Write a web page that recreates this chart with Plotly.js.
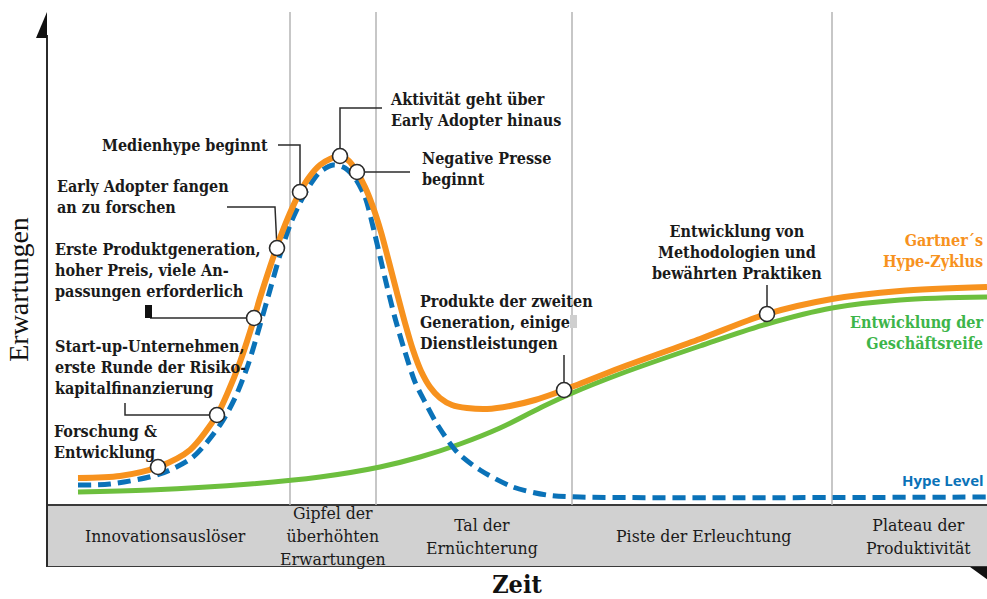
<!DOCTYPE html>
<html>
<head>
<meta charset="utf-8">
<script src="https://cdn.plot.ly/plotly-3.0.1.min.js"></script>
<style>html,body{margin:0;padding:0;background:#fff;}#chart{width:987px;height:599px;}</style>
</head>
<body>
<div id="chart"></div>
<script>
// ---- Data (Zeit 0..94, Erwartungen 0..~98) ----
const hypeCycleX = [3.1, 7.3, 11.1, 14.3, 17.0, 18.1, 19.3, 20.3, 21.3, 22.3, 23.3, 24.3, 25.3, 26.3, 27.3, 28.3, 29.3, 30.2, 31.0, 31.8, 32.6, 33.4, 34.2, 35.0, 35.8, 36.6, 37.4, 38.3, 39.3, 40.5, 42.0, 44.0, 46.3, 48.8, 51.7, 57.3, 65.3, 72.0, 78.5, 85.3, 94.0];
const hypeCycleY = [5.4, 5.8, 7.6, 11.0, 18.0, 22.6, 28.6, 34.6, 41.4, 47.6, 53.4, 58.4, 62.6, 65.8, 68.0, 69.2, 69.8, 68.8, 66.6, 63.6, 59.6, 54.6, 48.6, 42.4, 36.4, 31.0, 26.8, 23.6, 21.4, 20.0, 19.4, 19.2, 19.8, 21.0, 23.0, 27.4, 33.2, 38.2, 41.2, 42.8, 43.6];

const hypeLevelX = [3.1, 6.3, 11.3, 14.6, 17.3, 18.8, 20.1, 21.3, 22.3, 23.3, 24.3, 25.3, 26.3, 27.3, 28.6, 29.8, 30.8, 31.8, 32.8, 33.8, 34.8, 35.8, 36.8, 37.8, 39.0, 41.0, 43.3, 46.6, 50.0, 53.3, 94.0];
const hypeLevelY = [4.0, 4.2, 6.2, 9.6, 16.0, 21.4, 28.0, 36.0, 43.0, 50.0, 56.0, 60.4, 64.0, 66.6, 68.0, 67.4, 65.4, 61.6, 54.0, 45.4, 37.4, 30.6, 24.6, 20.6, 16.2, 10.6, 7.0, 3.6, 2.0, 1.6, 1.6];

const maturityX = [3.1, 10.3, 20.3, 27.3, 33.3, 37.3, 41.3, 45.3, 49.3, 52.3, 57.3, 65.3, 72.0, 78.5, 85.3, 94.0];
const maturityY = [2.6, 3.0, 4.2, 5.6, 7.6, 9.6, 12.2, 15.4, 19.4, 22.2, 26.2, 31.8, 36.2, 39.4, 41.0, 41.6];

// event points on the hype cycle
const eventX = [11.1, 17.0, 20.7, 23.0, 25.3, 29.3, 31.0, 51.7, 72.0];
const eventY = [7.6, 18.0, 37.4, 51.4, 62.6, 69.8, 66.6, 23.0, 38.2];
const eventLabels = [
  "Forschung &<br>Entwicklung",
  "Start-up-Unternehmen,<br>erste Runde der Risiko-<br>kapitalfinanzierung",
  "Erste Produktgeneration,<br>hoher Preis, viele An-<br>passungen erforderlich",
  "Early Adopter fangen<br>an zu forschen",
  "Medienhype beginnt",
  "Aktivität geht über<br>Early Adopter hinaus",
  "Negative Presse<br>beginnt",
  "Produkte der zweiten<br>Generation, einige<br>Dienstleistungen",
  "Entwicklung von<br>Methodologien und<br>bewährten Praktiken"
];

// phases (boundaries on the Zeit axis) and names
const phaseBounds = [24.3, 32.9, 52.5, 78.5];
const phaseNames = [
  "Innovationsauslöser",
  "Gipfel der<br>überhöhten<br>Erwartungen",
  "Tal der<br>Ernüchterung",
  "Piste der Erleuchtung",
  "Plateau der<br>Produktivität"
];
const seriesNames = ["Gartner´s<br>Hype-Zyklus", "Entwicklung der<br>Geschäftsreife", "Hype Level"];

// ---- Styling / layout ----
const ORANGE = "#f7921e", BLUE = "#0a72b8", GREEN = "#6dbf3e", GREENTXT = "#3db54a", DARK = "#2b2b2b";
const SERIF = "DejaVu Serif Condensed, DejaVu Serif, Liberation Serif, serif";
const YMIN = -12.4, YMAX = 98.6, XMAX = 94;

const traces = [
  {x: maturityX, y: maturityY, mode: "lines", line: {color: GREEN, width: 5, shape: "spline", smoothing: 1}, hoverinfo: "skip"},
  {x: hypeLevelX, y: hypeLevelY, mode: "lines", line: {color: BLUE, width: 5, dash: "13px,7px", shape: "spline", smoothing: 0.8}, hoverinfo: "skip"},
  {x: hypeCycleX, y: hypeCycleY, mode: "lines", line: {color: ORANGE, width: 6, shape: "spline", smoothing: 0.8}, hoverinfo: "skip"},
  {x: eventX, y: eventY, mode: "markers", marker: {size: 15, color: "#fff", line: {color: DARK, width: 1.6}}, hoverinfo: "skip"}
];

// label anchor positions (per event label)
const labelPos = [
  [0.5, 12.6, "left"], [0.6, 27.6, "left"], [0.6, 47.0, "left"], [0.8, 61.6, "left"],
  [5.3, 72.0, "left"], [34.1, 79.0, "left"], [37.3, 67.2, "left"], [37.1, 36.6, "left"],
  [69.0, 50.6, "center"]
];
// connector polylines (per event, from label to point)
const connectors = [
  null,
  [[7.8, 20.4], [7.8, 18.0]],
  [[10.3, 37.4]],
  [[18.0, 59.6], [22.8, 59.6]],
  [[23.1, 72.0], [25.3, 72.0]],
  [[33.5, 79.4], [29.3, 79.4]],
  [[36.3, 66.6]],
  [[51.7, 30.0]],
  [[72.0, 44.0]]
];

const shapes = [];
// phase dividers
phaseBounds.forEach(b => shapes.push({type: "line", xref: "x", yref: "y", x0: b, x1: b, y0: 0, y1: YMAX, line: {color: "#b4b4b4", width: 1.5}, layer: "below"}));
// phase band
shapes.push({type: "rect", xref: "paper", yref: "y", x0: 0, x1: 1.02, y0: YMIN, y1: 0, fillcolor: "#d1d1d1", line: {color: "#3a3a3a", width: 2}, layer: "below"});
// y axis line + arrow
shapes.push({type: "line", xref: "paper", yref: "y", x0: 0, x1: 0, y0: YMIN, y1: 94, line: {color: DARK, width: 2}});
shapes.push({type: "path", xref: "paper", yref: "paper", path: "M 0 1 L 0 0.953 L -0.0117 0.953 Z", fillcolor: "#111", line: {width: 0}});
// time arrow (bottom right)
shapes.push({type: "path", xref: "paper", yref: "paper", path: "M 0.982 0 L 1.0 0 L 1.0 -0.022 Z", fillcolor: "#111", line: {width: 0}});
// connectors (drawn below the traces so they stop at the white circles)
connectors.forEach((c, i) => {
  if (!c) return;
  const pts = c.concat([[eventX[i], eventY[i]]]);
  const path = pts.map((p, k) => (k ? "L " : "M ") + p[0] + " " + p[1]).join(" ");
  shapes.push({type: "path", xref: "x", yref: "y", path: path, line: {color: DARK, width: 1.5}, layer: "below"});
});
// small marks present in the original
shapes.push({type: "rect", xref: "x", yref: "y", x0: 9.8, x1: 10.5, y0: 37.4, y1: 40.0, fillcolor: "#111", line: {width: 0}});
shapes.push({type: "rect", xref: "x", yref: "y", x0: 52.3, x1: 53.0, y0: 35.4, y1: 38.0, fillcolor: "#cfcfcf", line: {width: 0}});

const annotations = [];
const labelFont = {family: SERIF, size: 16, color: "#1a1a1a", weight: 700};
eventLabels.forEach((t, i) => {
  const p = labelPos[i];
  annotations.push({x: p[0], y: p[1], xref: "x", yref: "y", text: t, showarrow: false, xanchor: p[2], yanchor: "middle", align: p[2], font: labelFont});
});
// series labels
annotations.push({x: 93.8, y: 50.8, xref: "x", yref: "y", text: seriesNames[0], showarrow: false, xanchor: "right", yanchor: "middle", align: "right", font: {family: SERIF, size: 16, color: ORANGE, weight: 700}});
annotations.push({x: 93.8, y: 34.4, xref: "x", yref: "y", text: seriesNames[1], showarrow: false, xanchor: "right", yanchor: "middle", align: "right", font: {family: SERIF, size: 16, color: GREENTXT, weight: 700}});
annotations.push({x: 93.9, y: 5.0, xref: "x", yref: "y", text: seriesNames[2], showarrow: false, xanchor: "right", yanchor: "middle", align: "right", font: {family: "Open Sans, sans-serif", size: 15, color: BLUE, weight: 700}});
// phase names centred in band
const phaseCentres = [11.8, 28.6, 43.5, 65.6, 87.1];
phaseNames.forEach((n, i) => {
  annotations.push({x: phaseCentres[i], y: YMIN / 2, xref: "x", yref: "y", text: n, showarrow: false, xanchor: "center", yanchor: "middle", align: "center", font: {family: SERIF, size: 17.5, color: "#1a1a1a"}});
});

const layout = {
  width: 987, height: 599,
  margin: {l: 47, r: 0, t: 12, b: 32},
  paper_bgcolor: "#fff", plot_bgcolor: "#fff",
  showlegend: false,
  xaxis: {range: [0, XMAX], showgrid: false, zeroline: false, showticklabels: false, ticks: "", showline: false,
          title: {text: "Zeit", font: {family: SERIF, size: 25, color: "#111", weight: 700}, standoff: 10}},
  yaxis: {range: [YMIN, YMAX], showgrid: false, zeroline: false, showticklabels: false, ticks: "", showline: false,
          title: {text: "Erwartungen", font: {family: "Liberation Serif, serif", size: 28, color: "#111"}, standoff: 9}},
  shapes: shapes,
  annotations: annotations
};

Plotly.newPlot("chart", traces, layout, {staticPlot: true, displayModeBar: false});
</script>
</body>
</html>
